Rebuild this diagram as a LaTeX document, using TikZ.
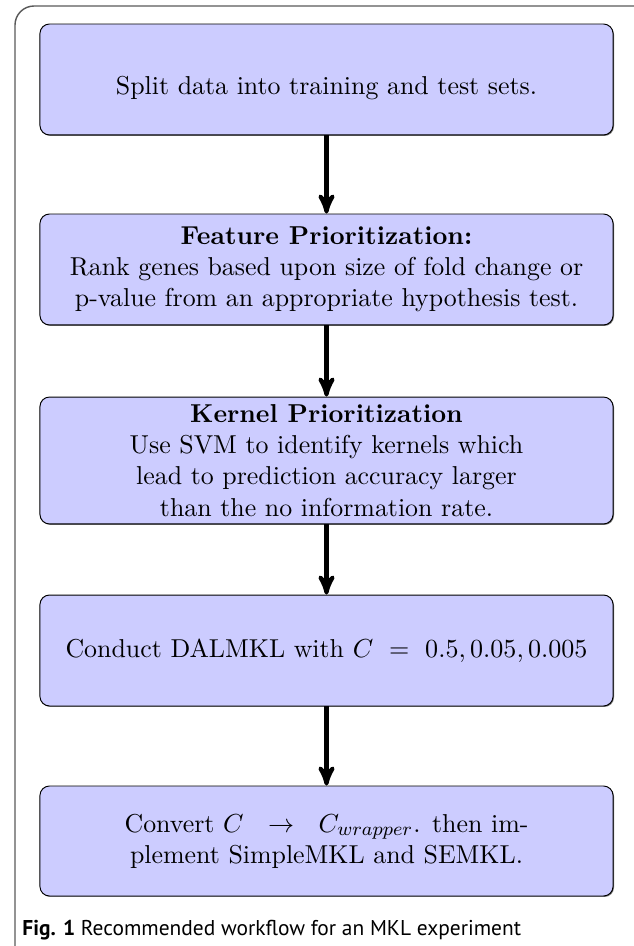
\documentclass[tikz,border=0pt]{standalone}
\usepackage{fontspec}
\newfontfamily\capfont{PT Sans}
\usetikzlibrary{arrows,shapes,calc,positioning,shadows}
\tikzset{
arc/.style={->,>=stealth',shorten >=0pt,line width=1.7pt},
stepbox/.style={draw=black,thin,fill=blue!20,rounded corners=4pt,align=center,
  minimum width=240.7pt,minimum height=46.6pt,inner sep=0pt,
  font=\fontsize{10.87}{13.1}\selectfont,
  drop shadow={shadow xshift=0.4pt,shadow yshift=-0.4pt,fill=black!55,opacity=1}}
}

\begin{document}
\begin{tikzpicture}[x=0.42pt,y=0.42pt]
	% frame (1 unit = 1px of the page)
	\useasboundingbox (0,0) rectangle (634,-946);
	\draw[black!65,semithick,rounded corners=8] (634,-6) -- (15,-6) -- (15,-946);

	% steps
	\node[stepbox] (split) at (326.5,-79.5) {\raisebox{-3.6pt}[\height][\depth]{Split data into training and test sets.}};
	\node[stepbox] (feat) at (326.5,-269.5) {\textbf{Feature Prioritization:}\\ Rank genes based upon size of fold change or\\ p-value from an appropriate hypothesis test.};
	\node[stepbox,minimum height=53.3pt] (kern) at (326.5,-460.5) {\textbf{Kernel Prioritization}\\ Use SVM to identify kernels which\\ lead to prediction accuracy larger\\ than the no information rate.};
	\node[stepbox] (dal) at (326.5,-650.5) {Conduct DALMKL with $C\ =\ 0.5, 0.05, 0.005$};
	\node[stepbox,minimum height=46.2pt] (conv) at (326.5,-841) {Convert $C\ \ \rightarrow\ \ C_{wrapper}$. then im-\\ plement SimpleMKL and SEMKL.};

	% arrows
	\draw[arc] (split) -- (feat);
	\draw[arc] (feat) -- (kern);
	\draw[arc] (kern) -- (dal);
	\draw[arc] (dal) -- (conv);

	% caption
	\node[anchor=base west,inner sep=0pt,font=\capfont\fontsize{9}{11}\selectfont] (cap) at (22,-935) {\textbf{Fig. 1} Recommended workflow for an MKL experiment};
\end{tikzpicture}
\end{document}
